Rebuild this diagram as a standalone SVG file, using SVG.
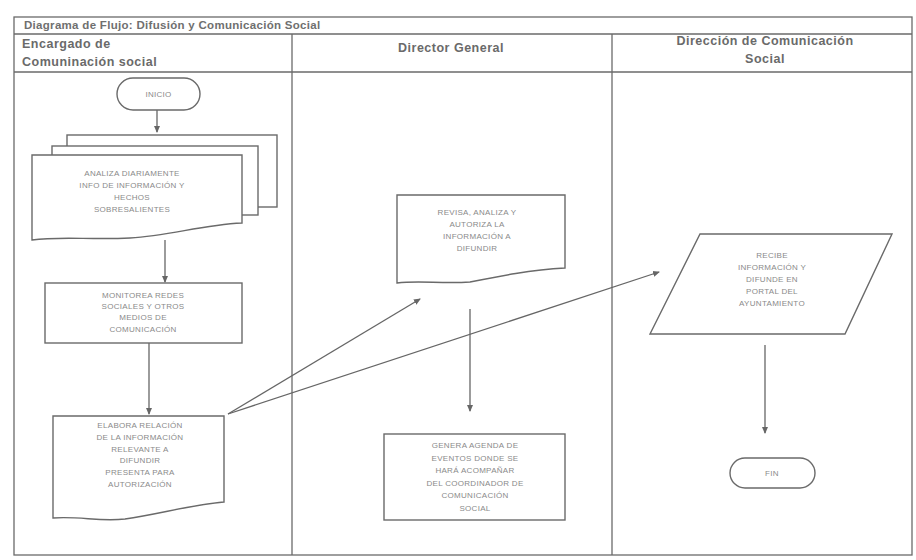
<svg xmlns="http://www.w3.org/2000/svg" width="916" height="560" viewBox="0 0 916 560">
<defs>
<style>
.frame{fill:none;stroke:#6a6a6a;stroke-width:1.3}
.shape{fill:#fff;stroke:#6a6a6a;stroke-width:1.4}
.conn{fill:none;stroke:#666;stroke-width:1.3}
.t{font-family:"Liberation Sans",Arial,sans-serif;font-size:8px;fill:#8a8a8a;text-anchor:middle;letter-spacing:0.3px}
.h{font-family:"Liberation Sans",Arial,sans-serif;font-size:12.5px;font-weight:bold;fill:#6a6a6a;letter-spacing:0.5px}
.title{font-family:"Liberation Sans",Arial,sans-serif;font-size:11.5px;font-weight:bold;fill:#6f6f6f;letter-spacing:0.3px}
</style>
<marker id="arr" markerWidth="8" markerHeight="8" refX="6" refY="4" orient="auto" markerUnits="userSpaceOnUse">
<path d="M0,1 L7,4 L0,7 Z" fill="#666"/>
</marker>
</defs>
<rect width="916" height="560" fill="#fff"/>
<g id="frame">
<rect class="frame" x="14" y="17" width="898" height="538"/>
<line class="frame" x1="14" y1="34" x2="912" y2="34"/>
<line class="frame" x1="14" y1="72" x2="912" y2="72"/>
<line class="frame" x1="292" y1="34" x2="292" y2="555"/>
<line class="frame" x1="612" y1="34" x2="612" y2="555"/>
<text class="title" x="24" y="29">Diagrama de Flujo: Difusión y Comunicación Social</text>
<text class="h" x="22" y="48">Encargado de</text>
<text class="h" x="22" y="66">Comuninación social</text>
<text class="h" x="451" y="52" text-anchor="middle">Director General</text>
<text class="h" x="765" y="45" text-anchor="middle">Dirección de Comunicación</text>
<text class="h" x="765" y="63" text-anchor="middle">Social</text>
</g>
<g id="connectors">
<line class="conn" x1="157" y1="110" x2="157" y2="132" marker-end="url(#arr)"/>
<line class="conn" x1="165" y1="240" x2="165" y2="282" marker-end="url(#arr)"/>
<line class="conn" x1="149" y1="343" x2="149" y2="414" marker-end="url(#arr)"/>
<line class="conn" x1="228" y1="414" x2="420" y2="299" marker-end="url(#arr)"/>
<line class="conn" x1="228" y1="414" x2="659" y2="272" marker-end="url(#arr)"/>
<line class="conn" x1="470" y1="309" x2="470" y2="411" marker-end="url(#arr)"/>
<line class="conn" x1="765" y1="345" x2="765" y2="433" marker-end="url(#arr)"/>
</g>
<g id="inicio">
<rect class="shape" x="117" y="78" width="83" height="32" rx="16"/>
<text class="t" x="158.5" y="97">INICIO</text>
</g>
<g id="analiza">
<rect class="shape" x="67" y="135" width="210" height="72"/>
<rect class="shape" x="52" y="146" width="206" height="69"/>
<path class="shape" d="M32,155 H242 V223 C200,225 170,236 130,238 C90,240 60,236 32,240 Z"/>
<text class="t" x="132" y="176">ANALIZA DIARIAMENTE</text>
<text class="t" x="132" y="188">INFO DE INFORMACIÓN Y</text>
<text class="t" x="132" y="200">HECHOS</text>
<text class="t" x="132" y="212">SOBRESALIENTES</text>
</g>
<g id="monitorea">
<rect class="shape" x="45" y="283" width="197" height="60"/>
<text class="t" x="143" y="298">MONITOREA REDES</text>
<text class="t" x="143" y="309">SOCIALES Y OTROS</text>
<text class="t" x="143" y="320">MEDIOS DE</text>
<text class="t" x="143" y="332">COMUNICACIÓN</text>
</g>
<g id="elabora">
<path class="shape" d="M53,416 H224 V502 C190,505 160,514 125,519 C100,522 80,516 53,518 Z"/>
<text class="t" x="140" y="428">ELABORA RELACIÓN</text>
<text class="t" x="140" y="440">DE LA INFORMACIÓN</text>
<text class="t" x="140" y="452">RELEVANTE A</text>
<text class="t" x="140" y="463">DIFUNDIR</text>
<text class="t" x="140" y="475">PRESENTA PARA</text>
<text class="t" x="140" y="487">AUTORIZACIÓN</text>
</g>
<g id="revisa">
<path class="shape" d="M397,195 H565 V268 C530,270 500,276 470,282 C440,284 420,280 397,283 Z"/>
<text class="t" x="477" y="215">REVISA, ANALIZA Y</text>
<text class="t" x="477" y="227">AUTORIZA LA</text>
<text class="t" x="477" y="239">INFORMACIÓN A</text>
<text class="t" x="477" y="251">DIFUNDIR</text>
</g>
<g id="genera">
<rect class="shape" x="384" y="434" width="181" height="86"/>
<text class="t" x="475" y="448">GENERA AGENDA DE</text>
<text class="t" x="475" y="461">EVENTOS DONDE SE</text>
<text class="t" x="475" y="473">HARÁ ACOMPAÑAR</text>
<text class="t" x="475" y="486">DEL COORDINADOR DE</text>
<text class="t" x="475" y="498">COMUNICACIÓN</text>
<text class="t" x="475" y="511">SOCIAL</text>
</g>
<g id="recibe">
<path class="shape" d="M700,234 H892 L845,334 H650 Z"/>
<text class="t" x="772" y="258">RECIBE</text>
<text class="t" x="772" y="270">INFORMACIÓN Y</text>
<text class="t" x="772" y="282">DIFUNDE EN</text>
<text class="t" x="772" y="294">PORTAL DEL</text>
<text class="t" x="772" y="306">AYUNTAMIENTO</text>
</g>
<g id="fin">
<rect class="shape" x="730" y="458" width="85" height="30" rx="15"/>
<text class="t" x="772" y="476">FIN</text>
</g>
</svg>
